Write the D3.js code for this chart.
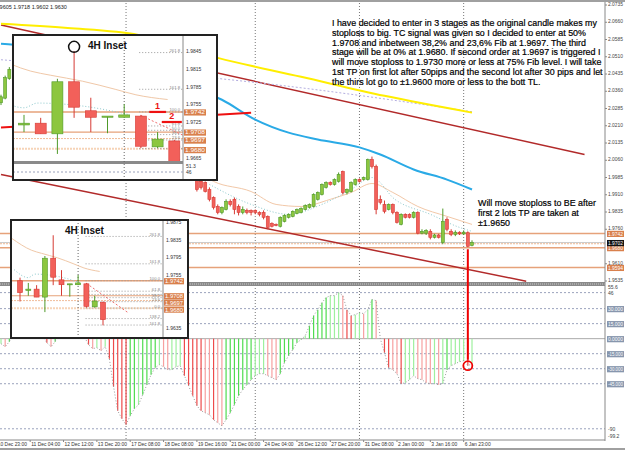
<!DOCTYPE html>
<html>
<head>
<meta charset="utf-8">
<script src="https://cdn.jsdelivr.net/npm/d3@7"></script>
<style>
  body { margin: 0; background: #fff; }
  svg { display: block; font-family: "Liberation Sans", Arial, sans-serif; }
</style>
</head>
<body>
<svg id="chart" width="625" height="450"></svg>
<script>
// ---- main H4 candles: [index, open, high, low, close] ----
const mainCandles = [
  [0, 2.0310, 2.0345, 2.0300, 2.0336], [1, 2.0330, 2.0428, 2.0325, 2.0419], [2, 2.0415, 2.0465, 2.0410, 2.0455],
  [47, 1.9976, 1.9985, 1.9924, 1.9933], [48, 1.9968, 1.9976, 1.9933, 1.9942], [49, 1.9963, 1.9968, 1.9920, 1.9924],
  [50, 1.9933, 1.9942, 1.9881, 1.9890], [51, 1.9898, 1.9903, 1.9846, 1.9855], [52, 1.9859, 1.9868, 1.9825, 1.9833],
  [53, 1.9833, 1.9859, 1.9825, 1.9855], [54, 1.9846, 1.9890, 1.9842, 1.9881], [55, 1.9881, 1.9890, 1.9859, 1.9868],
  [56, 1.9890, 1.9898, 1.9825, 1.9846], [57, 1.9859, 1.9868, 1.9820, 1.9833], [58, 1.9833, 1.9859, 1.9825, 1.9846],
  [59, 1.9842, 1.9850, 1.9825, 1.9833], [60, 1.9842, 1.9846, 1.9820, 1.9833], [61, 1.9842, 1.9846, 1.9825, 1.9833],
  [62, 1.9833, 1.9838, 1.9816, 1.9825], [63, 1.9833, 1.9842, 1.9803, 1.9812], [64, 1.9816, 1.9820, 1.9760, 1.9768],
  [65, 1.9785, 1.9790, 1.9768, 1.9773], [66, 1.9781, 1.9785, 1.9773, 1.9777], [67, 1.9773, 1.9816, 1.9768, 1.9812],
  [68, 1.9794, 1.9825, 1.9790, 1.9820], [69, 1.9812, 1.9829, 1.9807, 1.9825], [70, 1.9816, 1.9842, 1.9812, 1.9838],
  [71, 1.9829, 1.9850, 1.9825, 1.9846], [72, 1.9833, 1.9855, 1.9829, 1.9850], [73, 1.9846, 1.9868, 1.9842, 1.9863],
  [74, 1.9855, 1.9872, 1.9850, 1.9868], [75, 1.9859, 1.9916, 1.9855, 1.9911], [76, 1.9890, 1.9924, 1.9885, 1.9920],
  [77, 1.9911, 1.9959, 1.9907, 1.9955], [78, 1.9942, 1.9968, 1.9937, 1.9963], [79, 1.9963, 1.9968, 1.9950, 1.9955],
  [80, 1.9955, 1.9981, 1.9950, 1.9976], [81, 1.9968, 2.0007, 1.9963, 1.9998], [82, 2.0011, 2.0015, 1.9911, 1.9920],
  [83, 1.9920, 1.9937, 1.9911, 1.9933], [84, 1.9924, 1.9968, 1.9920, 1.9963], [85, 1.9955, 1.9981, 1.9950, 1.9976],
  [86, 1.9976, 1.9981, 1.9963, 1.9968], [87, 1.9976, 1.9989, 1.9972, 1.9985], [88, 1.9976, 2.0067, 1.9972, 2.0063],
  [89, 2.0063, 2.0076, 2.0024, 2.0033], [90, 2.0033, 2.0041, 1.9825, 1.9846], [91, 1.9890, 1.9907, 1.9868, 1.9877],
  [92, 1.9868, 1.9885, 1.9829, 1.9838], [93, 1.9846, 1.9872, 1.9842, 1.9868], [94, 1.9868, 1.9872, 1.9825, 1.9833],
  [95, 1.9833, 1.9838, 1.9785, 1.9790], [96, 1.9781, 1.9829, 1.9777, 1.9825], [97, 1.9825, 1.9829, 1.9807, 1.9812],
  [98, 1.9825, 1.9829, 1.9807, 1.9812], [99, 1.9812, 1.9838, 1.9807, 1.9833], [100, 1.9833, 1.9838, 1.9738, 1.9743],
  [101, 1.9743, 1.9760, 1.9738, 1.9751], [102, 1.9743, 1.9760, 1.9735, 1.9755], [103, 1.9751, 1.9760, 1.9716, 1.9725],
  [104, 1.9725, 1.9740, 1.9720, 1.9735], [105, 1.9735, 1.9740, 1.9720, 1.9725], [106, 1.9703, 1.9850, 1.9695, 1.9794],
  [107, 1.9803, 1.9812, 1.9751, 1.9760], [108, 1.9751, 1.9760, 1.9730, 1.9738], [109, 1.9738, 1.9755, 1.9730, 1.9747],
  [110, 1.9747, 1.9751, 1.9735, 1.9740], [111, 1.9740, 1.9755, 1.9735, 1.9747], [112, 1.9745, 1.9751, 1.9682, 1.9686],
  [113, 1.9690, 1.9712, 1.9686, 1.9702]
];

// CCI-style histogram, one value per candle index 0..113
const cciValues = [
  -5, -8, -3, 5, 20, 30, 25, 15, 5, 10, 3, -4, -8, -3, 10, 20, 25, 18, 12, 6,
  2, -6, -10, -9, -12, -8, -20, -48, -72, -80, -86, -77, -70, -66, -56, -46, -36, -29, -26, -28,
  -31, -31, -28, -27, -37, -47, -57, -67, -72, -74, -76, -81, -84, -87, -81, -74, -66, -57, -51, -46,
  -41, -37, -35, -35, -37, -39, -41, -35, -24, -17, -11, -4, -1, 3, 13, 23, 29, 36, 41, 43,
  43, 46, 43, 29, 23, 24, 26, 25, 29, 39, 38, 0, -14, -29, -31, -35, -45, -44, -41, -37,
  -40, -41, -44, -45, -45, -46, -45, -31, -27, -25, -23, -22, -27, -25
];

// moving averages / lines as [index, price]
const yellowMA = [[0, 2.0653], [16, 2.0635], [33, 2.0605], [52, 2.0505], [72, 2.0423], [92, 2.0340], [113, 2.0267]];
const lavenderMA = [[0, 2.0497], [72, 2.0375], [113, 2.0271]];
const blueMA = [[0, 2.0566], [3, 2.0562], [29, 2.0432], [53, 2.0323], [61, 2.0237], [69, 2.0180], [76, 2.0150],
  [86, 2.0116], [91, 2.0085], [99, 2.0020], [107, 1.9976], [113, 1.9933]];
const beigeMA = [[40, 2.0063], [47, 2.0011], [51, 1.9968], [60, 1.9924], [66, 1.9868], [72, 1.9859], [79, 1.9890],
  [84, 1.9920], [89, 1.9959], [94, 1.9920], [100, 1.9859], [107, 1.9816], [113, 1.9781]];
const tealMA = [[50, 1.9955], [60, 1.9868], [69, 1.9825], [77, 1.9868], [84, 1.9933], [89, 1.9985], [94.5, 1.9890],
  [103, 1.9825], [110, 1.9768], [113, 1.9751]];
const upperTL = [[0, 2.0648], [140, 2.0085]];
const lowerTL = [[0, 1.9998], [126, 1.9534]];
const redSegment = [[0, 2.0202], [60, 2.0267]];

const orangeLevels = [1.9742, 1.9680, 1.9594];
const dottedLevel = 1.9697;
const lastPrice = 1.9702;
const separatorIdx = [30, 61, 86, 111];
const signalIdx = 112;

const priceTicks = [2.0735, 2.0660, 2.0585, 2.0510, 2.0435, 2.0360, 2.0285, 2.0210, 2.0135, 2.0060,
  1.9985, 1.9910, 1.9835, 1.9760, 1.9610, 1.9535];
const cciTicks = [30, 15, 0, -15, -30, -45];
const cciDotted = [46, 30, 15, -15, -30, -45, -90];
const timeLabels = ["10 Dec 23:00", "11 Dec 04:00", "12 Dec 12:00", "13 Dec 20:00", "17 Dec 08:00", "18 Dec 08:00",
  "19 Dec 16:00", "21 Dec 00:00", "24 Dec 04:00", "26 Dec 12:00", "27 Dec 20:00", "31 Dec 08:00",
  "2 Jan 00:00", "3 Jan 16:00", "6 Jan 23:00"];

// ---- 4H inset data: [open, high, low, close] ----
const insetCandles = [
  [1.9742, 1.9749, 1.9695, 1.9715], [1.9720, 1.9737, 1.9708, 1.9723], [1.9723, 1.9732, 1.9705, 1.9705],
  [1.9705, 1.9798, 1.9671, 1.9793], [1.9793, 1.9845, 1.9732, 1.9750], [1.9744, 1.9766, 1.9708, 1.9733],
  [1.9733, 1.9735, 1.9706, 1.9735], [1.9733, 1.9755, 1.9732, 1.9737], [1.9735, 1.9737, 1.9681, 1.9684],
  [1.9683, 1.9708, 1.9681, 1.9696], [1.9693, 1.9695, 1.9641, 1.9654]
];
const fibLow = 1.9680, fibHigh = 1.9742;
const fibRatios = [2.618, 1.618, 1, 0.618, 0.5, 0.382, 0.236, 0, -0.382, -0.618];
const fibNames = ["261.8", "161.8", "100.0", "61.8", "50.0", "38.2", "23.6", "0.0", "138.2", "161.8"];
const insetOrange = [1.9742, 1.9708, 1.9697, 1.9680];
const insetBeige = [[-1, 1.9838], [1.4, 1.9811], [2.6, 1.9804], [4.5, 1.9794], [6.5, 1.9780], [7.7, 1.9771], [9.6, 1.9763]];
const insetTeal = [[-0.7, 1.9767], [1, 1.9749], [1.8, 1.9757], [4.5, 1.9752], [7.2, 1.9738]];
const insetRedDash = [[8, 1.9736], [13, 1.9670]];
const entryMarks = [{ label: "1", from: 8.5, to: 9.5, price: 1.9742 }, { label: "2", from: 9.25, to: 10.45, price: 1.9725 }];
const inset1Ticks = [1.9845, 1.9815, 1.9785, 1.9755, 1.9725, 1.9665];
const inset2Ticks = [1.9875, 1.9835, 1.9795, 1.9755, 1.9635];

const noteLines = [
  "I have decided to enter in 3 stages as the original candle makes my",
  "stoploss to big. TC signal was given so I decided to enter at 50%",
  "1.9708 and inbetween 38,2% and 23,6% Fib at 1.9697. The third",
  "stage will be at 0% at 1.9680. If second order at 1.9697 is triggered I",
  "will move stoploss to 1.9730 more or less at 75% Fib level. I will take",
  "1st TP on first lot after 50pips and the second lot after 30 pips and let",
  "the thirs lot go to \u00b11.9600 more or less to the bott TL."
];
const note2Lines = ["Will move stoploss to BE after", "first 2 lots TP are taken at", "\u00b11.9650"];

// ---------------------------------------------------------------------------
const svg = d3.select("#chart");
const GREEN = "#8cc63f", GREEN_D = "#4f9a2a", RED = "#f2605a", RED_D = "#d63a34";
const ORANGE = "#e6a27a", ORANGE_BOX = "#d9804c";

const x = d3.scaleLinear().domain([0, 113]).range([1, 472]);
const y = d3.scaleLinear().domain([1.9535, 2.0735]).range([281, 5]);
const yc = d3.scaleLinear().domain([-99.2, 55.6]).range([438, 283]);
const AXIS_X = 605;

svg.append("rect").attr("width", 625).attr("height", 450).attr("fill", "#fff");

const defs = svg.append("defs");
defs.append("clipPath").attr("id", "priceClip").append("rect")
  .attr("x", 0).attr("y", 3).attr("width", AXIS_X).attr("height", 279);

// period separators (dotted verticals)
svg.append("g").selectAll("line").data(separatorIdx).join("line")
  .attr("x1", d => x(d)).attr("x2", d => x(d)).attr("y1", 3).attr("y2", 440)
  .attr("stroke", "#777").attr("stroke-dasharray", "1,2");

// ---- price panel ----
const price = svg.append("g").attr("clip-path", "url(#priceClip)");

price.selectAll(".lvl").data(orangeLevels).join("line")
  .attr("x1", 0).attr("x2", AXIS_X).attr("y1", d => y(d)).attr("y2", d => y(d))
  .attr("stroke", ORANGE).attr("stroke-width", 1.5);
price.append("line").attr("x1", 0).attr("x2", AXIS_X).attr("y1", y(dottedLevel)).attr("y2", y(dottedLevel))
  .attr("stroke", "#f0b890").attr("stroke-dasharray", "2,1");
price.append("line").attr("x1", 0).attr("x2", AXIS_X).attr("y1", y(lastPrice)).attr("y2", y(lastPrice))
  .attr("stroke", "#c8c8c8");

const line = d3.line().x(d => x(d[0])).y(d => y(d[1]));
const curve = d3.line().x(d => x(d[0])).y(d => y(d[1])).curve(d3.curveMonotoneX);

price.append("path").attr("d", line(upperTL)).attr("fill", "none").attr("stroke", "#b22a2a").attr("stroke-width", 1.5);
price.append("path").attr("d", line(lowerTL)).attr("fill", "none").attr("stroke", "#b22a2a").attr("stroke-width", 1.5);
price.append("path").attr("d", curve(lavenderMA)).attr("fill", "none").attr("stroke", "#b4aee0").attr("stroke-dasharray", "2,2");
price.append("path").attr("d", curve(yellowMA)).attr("fill", "none").attr("stroke", "#ffee00").attr("stroke-width", 2);
price.append("path").attr("d", curve(blueMA)).attr("fill", "none").attr("stroke", "#2aaae6").attr("stroke-width", 2);
price.append("path").attr("d", curve(beigeMA)).attr("fill", "none").attr("stroke", "#f2c8a8").attr("stroke-width", 1);
price.append("path").attr("d", curve(tealMA)).attr("fill", "none").attr("stroke", "#8cc8cc").attr("stroke-dasharray", "1,2");
price.append("path").attr("d", line(redSegment)).attr("fill", "none").attr("stroke", "#ee1111").attr("stroke-width", 2);

function drawCandles(g, data, xf, yf, w) {
  const c = g.append("g").selectAll("g").data(data).join("g");
  c.append("line")
    .attr("x1", d => xf(d.i)).attr("x2", d => xf(d.i))
    .attr("y1", d => yf(d.h)).attr("y2", d => yf(d.l))
    .attr("stroke", d => d.c >= d.o ? GREEN_D : RED_D);
  c.append("rect")
    .attr("x", d => xf(d.i) - w / 2).attr("width", w)
    .attr("y", d => yf(Math.max(d.o, d.c)))
    .attr("height", d => Math.max(1, Math.abs(yf(d.o) - yf(d.c))))
    .attr("fill", d => d.c >= d.o ? GREEN : RED)
    .attr("stroke", d => d.c >= d.o ? GREEN_D : RED_D).attr("stroke-width", 0.6);
}
drawCandles(price, mainCandles.map(r => ({ i: r[0], o: r[1], h: r[2], l: r[3], c: r[4] })), x, y, 3);

// panel separator
svg.append("rect").attr("x", 0).attr("y", 282).attr("width", AXIS_X).attr("height", 4).attr("fill", "#8a8a8a");
svg.append("line").attr("x1", 0).attr("x2", AXIS_X).attr("y1", 284).attr("y2", 284)
  .attr("stroke", "#c8c8c8").attr("stroke-dasharray", "1,1");

// ---- indicator panel ----
const ind = svg.append("g");
ind.selectAll(".lv").data(cciDotted).join("line")
  .attr("x1", 0).attr("x2", AXIS_X).attr("y1", d => yc(d)).attr("y2", d => yc(d))
  .attr("stroke", "#9aa2bc").attr("stroke-dasharray", "2,2");
ind.append("line").attr("x1", 0).attr("x2", AXIS_X).attr("y1", yc(0)).attr("y2", yc(0)).attr("stroke", "#aaa");

ind.selectAll(".bar").data(cciValues).join("line")
  .attr("x1", (d, i) => x(i)).attr("x2", (d, i) => x(i))
  .attr("y1", yc(0)).attr("y2", d => yc(d))
  .attr("stroke-width", 1.2)
  .attr("stroke", (d, i) => {
    const prev = i > 0 ? cciValues[i - 1] : d;
    const up = d >= prev;
    const big = Math.abs(d - prev) >= 5;
    return up ? (big ? "#4fdc4f" : "#9ef09e") : (big ? "#ee4a4a" : "#f7a0a0");
  });
ind.append("path")
  .attr("d", d3.line().x((d, i) => x(i)).y(d => yc(d))(cciValues))
  .attr("fill", "none").attr("stroke", "#9a9a9a").attr("stroke-dasharray", "1,2");

// signal marker: red vertical + circle
svg.append("line").attr("x1", x(signalIdx)).attr("x2", x(signalIdx))
  .attr("y1", y(1.9673)).attr("y2", yc(-21)).attr("stroke", "#ee0000").attr("stroke-width", 2);
svg.append("circle").attr("cx", x(signalIdx)).attr("cy", yc(cciValues[signalIdx]))
  .attr("r", 4.5).attr("fill", "none").attr("stroke", "#ee0000").attr("stroke-width", 1.8);

// ---- axes ----
svg.append("line").attr("x1", AXIS_X).attr("x2", AXIS_X).attr("y1", 0).attr("y2", 441).attr("stroke", "#888");
svg.append("line").attr("x1", 0).attr("x2", AXIS_X).attr("y1", 440).attr("y2", 440).attr("stroke", "#888");

const axisTxt = svg.append("g").attr("font-size", 5).attr("fill", "#444");
priceTicks.forEach(p => {
  axisTxt.append("line").attr("x1", AXIS_X).attr("x2", AXIS_X + 2).attr("y1", y(p)).attr("y2", y(p)).attr("stroke", "#888");
  axisTxt.append("text").attr("x", AXIS_X + 3).attr("y", y(p) + 1.2)
    .attr("textLength", 15).attr("lengthAdjust", "spacingAndGlyphs").text(p.toFixed(4));
});
axisTxt.append("text").attr("x", AXIS_X + 3).attr("y", yc(55.6) + 6).text("55.6");
axisTxt.append("text").attr("x", AXIS_X + 3).attr("y", yc(46) + 2).text("46");
axisTxt.append("text").attr("x", AXIS_X + 3).attr("y", yc(-90) + 2).text("-90");
axisTxt.append("text").attr("x", AXIS_X + 3).attr("y", yc(-99.2)).text("-99.2");

function priceBox(g, yy, label, fill, xx, w) {
  g.append("rect").attr("x", xx).attr("y", yy - 2.6).attr("width", w).attr("height", 6.2).attr("fill", fill);
  g.append("text").attr("x", xx + 1).attr("y", yy + 2.4).attr("fill", "#fff").attr("font-size", 4.8)
    .attr("textLength", w - 2).attr("lengthAdjust", "spacingAndGlyphs").text(label);
}
orangeLevels.forEach(p => priceBox(svg, y(p), p.toFixed(4), ORANGE_BOX, AXIS_X + 2, 17));
priceBox(svg, y(lastPrice), lastPrice.toFixed(4), "#111", AXIS_X + 2, 17);
cciTicks.forEach(v => priceBox(svg, yc(v), v === 0 ? "0.0000" : v.toFixed(3), "#8796ad", AXIS_X + 2, 17));

timeLabels.forEach((t, k) => {
  const xi = x(-1 + 8 * k);
  svg.append("line").attr("x1", xi).attr("x2", xi).attr("y1", 440).attr("y2", 442).attr("stroke", "#888");
  svg.append("text").attr("x", xi + 1).attr("y", 446).attr("font-size", 5.2).attr("fill", "#333")
    .attr("textLength", t.length > 11 ? 29 : 26).attr("lengthAdjust", "spacingAndGlyphs").text(t);
});

// top and bottom frame bars
svg.append("rect").attr("x", 0).attr("y", 0).attr("width", 625).attr("height", 2).attr("fill", "#a0a0a0");
svg.append("rect").attr("x", 0).attr("y", 448).attr("width", 625).attr("height", 2).attr("fill", "#a0a0a0");
svg.append("text").attr("x", -5).attr("y", 9).attr("font-size", 5.5).attr("fill", "#222").text("1.9605 1.9718 1.9602 1.9630");

// ---- 4H insets ----
function drawInset(cfg) {
  const g = svg.append("g");
  const ys = d3.scaleLinear().domain(cfg.domain).range(cfg.range);
  const xs = i => cfg.x0 + i * cfg.step;
  g.append("rect").attr("x", cfg.left).attr("y", cfg.top)
    .attr("width", cfg.right - cfg.left).attr("height", cfg.bottom - cfg.top).attr("fill", "#fff");
  defs.append("clipPath").attr("id", cfg.id).append("rect")
    .attr("x", cfg.left).attr("y", cfg.top).attr("width", cfg.axisX - cfg.left).attr("height", cfg.plotBottom - cfg.top);
  const p = g.append("g").attr("clip-path", `url(#${cfg.id})`);

  // orange entry levels
  p.append("line").attr("x1", cfg.left).attr("x2", cfg.axisX).attr("y1", ys(insetOrange[0])).attr("y2", ys(insetOrange[0]))
    .attr("stroke", ORANGE).attr("stroke-width", 1.5);
  p.append("line").attr("x1", cfg.left).attr("x2", cfg.axisX).attr("y1", ys(insetOrange[1])).attr("y2", ys(insetOrange[1]))
    .attr("stroke", ORANGE).attr("stroke-width", 1.2);
  p.append("line").attr("x1", cfg.left).attr("x2", cfg.axisX).attr("y1", ys(insetOrange[2])).attr("y2", ys(insetOrange[2]))
    .attr("stroke", "#f0bb98").attr("stroke-dasharray", "2,1");
  p.append("line").attr("x1", cfg.left).attr("x2", cfg.axisX).attr("y1", ys(insetOrange[3])).attr("y2", ys(insetOrange[3]))
    .attr("stroke", "#f6d4b8").attr("stroke-width", 2).attr("stroke-dasharray", "2,1");

  // fib levels (labels thinned where the levels crowd together)
  const fx = xs(7.9);
  let lastLabelY = -100;
  fibRatios.slice(0, cfg.fibCount).forEach((r, k) => {
    const py = ys(fibLow + r * (fibHigh - fibLow));
    p.append("line").attr("x1", fx).attr("x2", cfg.axisX).attr("y1", py).attr("y2", py)
      .attr("stroke", "#999").attr("stroke-dasharray", "1,2");
    if (py - lastLabelY < 3.6) return;
    lastLabelY = py;
    p.append("text").attr("x", cfg.axisX - 3).attr("y", py - 0.5).attr("text-anchor", "end")
      .attr("font-size", 4.2).attr("fill", "#888").text(fibNames[k]);
  });

  // period separator
  p.append("line").attr("x1", xs(7)).attr("x2", xs(7)).attr("y1", cfg.top).attr("y2", cfg.bottom)
    .attr("stroke", "#666").attr("stroke-dasharray", "1,2");

  const il = d3.line().x(d => xs(d[0])).y(d => ys(d[1])).curve(d3.curveMonotoneX);
  p.append("path").attr("d", il(insetBeige)).attr("fill", "none").attr("stroke", "#f0c8a8");
  p.append("path").attr("d", il(insetTeal)).attr("fill", "none").attr("stroke", "#8cc8cc").attr("stroke-dasharray", "1,2");
  p.append("path").attr("d", d3.line().x(d => xs(d[0])).y(d => ys(d[1]))(insetRedDash))
    .attr("fill", "none").attr("stroke", "#f07070").attr("stroke-dasharray", "2,2");

  drawCandles(p, insetCandles.map((r, i) => ({ i, o: r[0], h: r[1], l: r[2], c: r[3] })), xs, ys, cfg.bodyW);

  if (cfg.marks) {
    entryMarks.forEach(m => {
      p.append("line").attr("x1", xs(m.from)).attr("x2", xs(m.to)).attr("y1", ys(m.price)).attr("y2", ys(m.price))
        .attr("stroke", "#ee1111").attr("stroke-width", 2.2);
      p.append("text").attr("x", (xs(m.from) + xs(m.to)) / 2).attr("y", ys(m.price) - 3).attr("text-anchor", "middle")
        .attr("font-size", 9).attr("font-weight", "bold").attr("fill", "#ee1111").text(m.label);
    });
    p.append("circle").attr("cx", xs(4)).attr("cy", ys(1.9852)).attr("r", 5.5)
      .attr("fill", "none").attr("stroke", "#111").attr("stroke-width", 1.5);
  }

  // axis
  g.append("line").attr("x1", cfg.axisX).attr("x2", cfg.axisX).attr("y1", cfg.top).attr("y2", cfg.bottom).attr("stroke", "#888");
  cfg.ticks.forEach(t => {
    g.append("text").attr("x", cfg.axisX + 3).attr("y", ys(t) + 2).attr("font-size", 5).attr("fill", "#333").text(t.toFixed(4));
  });
  insetOrange.forEach((v, k) => {
    priceBox(g, ys(v) + (k === 2 ? 1.5 : k === 3 ? 1 : 0), v.toFixed(4), ORANGE_BOX, cfg.axisX + 1, cfg.boxW);
  });

  if (cfg.cci) {
    g.append("rect").attr("x", cfg.left).attr("y", cfg.plotBottom).attr("width", cfg.axisX - cfg.left).attr("height", 3).attr("fill", "#8a8a8a");
    g.append("line").attr("x1", cfg.left).attr("x2", cfg.axisX).attr("y1", cfg.plotBottom + 11).attr("y2", cfg.plotBottom + 11)
      .attr("stroke", "#9aa2bc").attr("stroke-dasharray", "2,2");
    g.append("line").attr("x1", xs(7)).attr("x2", xs(7)).attr("y1", cfg.plotBottom).attr("y2", cfg.bottom)
      .attr("stroke", "#666").attr("stroke-dasharray", "1,2");
    g.append("text").attr("x", cfg.axisX + 3).attr("y", cfg.plotBottom + 7).attr("font-size", 5).attr("fill", "#333").text("51.3");
    g.append("text").attr("x", cfg.axisX + 3).attr("y", cfg.plotBottom + 13).attr("font-size", 5).attr("fill", "#333").text("46");
  }

  g.append("text").attr("x", cfg.titleX).attr("y", cfg.top + 14).attr("font-size", 10).attr("font-weight", "bold")
    .attr("fill", "#111").text("4H Inset");
  g.append("rect").attr("x", cfg.left).attr("y", cfg.top)
    .attr("width", cfg.right - cfg.left).attr("height", cfg.bottom - cfg.top)
    .attr("fill", "none").attr("stroke", "#222").attr("stroke-width", 2);
}

drawInset({ id: "in1", left: 13, top: 35, right: 217, bottom: 180, axisX: 183, plotBottom: 161,
  domain: [1.9665, 1.9845], range: [157.5, 51], x0: 24 - 16.7, step: 16.7, bodyW: 11, boxW: 22,
  ticks: inset1Ticks, fibCount: 9, marks: true, cci: true, titleX: 88 });
drawInset({ id: "in2", left: 11, top: 220, right: 188, bottom: 338, axisX: 163, plotBottom: 338,
  domain: [1.9635, 1.9875], range: [328, 222], x0: 20, step: 8.3, bodyW: 5, boxW: 20,
  ticks: inset2Ticks, fibCount: 10, marks: false, cci: false, titleX: 65 });

// ---- annotations ----
const notes = svg.append("g").attr("font-size", 8.9).attr("fill", "#000")
  .attr("stroke", "#000").attr("stroke-width", 0.2);
noteLines.forEach((t, k) => {
  notes.append("text").attr("x", 332).attr("y", 26 + k * 9.8).text(t);
});
note2Lines.forEach((t, k) => {
  notes.append("text").attr("x", 478).attr("y", 206 + k * 10).text(t);
});
</script>
</body>
</html>
